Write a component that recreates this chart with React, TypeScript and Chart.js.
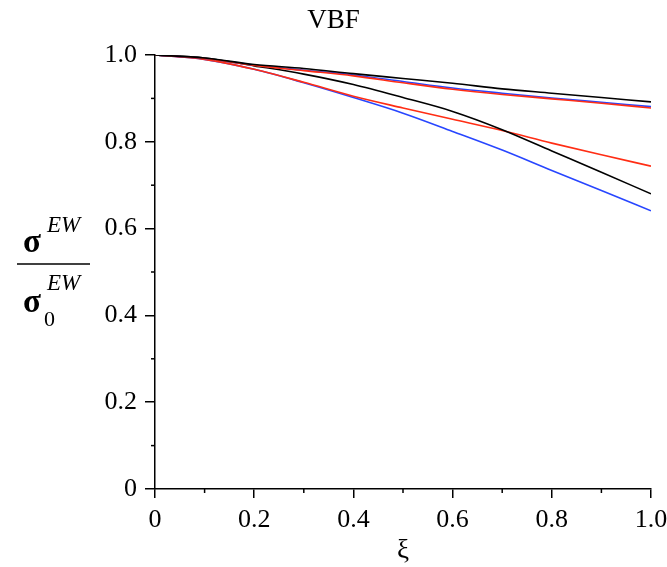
import React, { useEffect, useRef } from 'react';
import { Chart, registerables } from 'chart.js';

Chart.register(...registerables);

const xi = [0, 0.1, 0.2, 0.3, 0.4, 0.5, 0.6, 0.7, 0.8, 0.9, 1.0];
const upperBlack = [1.0, 0.993, 0.978, 0.969, 0.957, 0.946, 0.935, 0.922, 0.912, 0.902, 0.892];
const upperBlue = [1.0, 0.992, 0.977, 0.965, 0.954, 0.939, 0.924, 0.912, 0.901, 0.891, 0.881];
const upperRed = [1.0, 0.992, 0.976, 0.964, 0.952, 0.936, 0.921, 0.909, 0.899, 0.889, 0.878];
const lowerBlack = [1.0, 0.993, 0.975, 0.956, 0.932, 0.902, 0.87, 0.828, 0.779, 0.73, 0.68];
const lowerRed = [1.0, 0.99, 0.967, 0.937, 0.905, 0.878, 0.852, 0.826, 0.797, 0.77, 0.744];
const lowerBlue = [1.0, 0.99, 0.967, 0.936, 0.902, 0.866, 0.824, 0.781, 0.734, 0.688, 0.641];

const minorTicks = [0.1, 0.3, 0.5, 0.7, 0.9];
const titleText = 'VBF';
const xTitle = 'ξ';

const BLACK = '#000000';
const RED = 'rgb(255,45,20)';
const BLUE = 'rgb(40,70,255)';

const toPts = (ys: number[]) => ys.map((y, i) => ({ x: xi[i], y }));

const serif = "'Liberation Serif', 'DejaVu Serif', serif";

const extrasPlugin = {
  id: 'extras',
  afterDraw(chart: any) {
    const ctx = chart.ctx as CanvasRenderingContext2D;
    const xs = chart.scales.x;
    const ys = chart.scales.y;
    ctx.save();
    ctx.strokeStyle = '#000';
    ctx.lineWidth = 1.5;
    minorTicks.forEach((v) => {
      const px = xs.getPixelForValue(v);
      ctx.beginPath();
      ctx.moveTo(px, xs.top);
      ctx.lineTo(px, xs.top + 4);
      ctx.stroke();
      const py = ys.getPixelForValue(v);
      ctx.beginPath();
      ctx.moveTo(ys.right, py);
      ctx.lineTo(ys.right - 4, py);
      ctx.stroke();
    });
    ctx.fillStyle = '#000';
    ctx.textBaseline = 'alphabetic';
    ctx.textAlign = 'left';
    ctx.font = `bold 33px ${serif}`;
    ctx.fillText('σ', 23, 252);
    ctx.fillText('σ', 23, 312);
    ctx.font = `italic 23px ${serif}`;
    ctx.fillText('EW', 47, 232);
    ctx.fillText('EW', 47, 290);
    ctx.font = `22px ${serif}`;
    ctx.fillText('0', 44, 326);
    ctx.beginPath();
    ctx.moveTo(17, 264);
    ctx.lineTo(90, 264);
    ctx.stroke();
    ctx.restore();
  },
};

export default function App() {
  const ref = useRef<HTMLCanvasElement | null>(null);
  useEffect(() => {
    if (!ref.current) return;
    const ds = (label: string, ys: number[], color: string) => ({
      label,
      data: toPts(ys),
      borderColor: color,
      backgroundColor: color,
      borderWidth: 1.6,
      pointRadius: 0,
      cubicInterpolationMode: 'monotone' as const,
      fill: false,
    });
    const chart = new Chart(ref.current, {
      type: 'line',
      data: {
        datasets: [
          ds('upper black', upperBlack, BLACK),
          ds('upper red', upperRed, RED),
          ds('upper blue', upperBlue, BLUE),
          ds('lower black', lowerBlack, BLACK),
          ds('lower red', lowerRed, RED),
          ds('lower blue', lowerBlue, BLUE),
        ],
      },
      options: {
        animation: false,
        responsive: false,
        devicePixelRatio: 1,
        layout: { padding: { left: 0, top: 0, bottom: 0, right: 0 } },
        plugins: {
          legend: { display: false },
          tooltip: { enabled: false },
          title: {
            display: true,
            text: titleText,
            color: '#000',
            font: { family: serif, size: 27, weight: 'normal' },
            padding: { top: 5, bottom: 17.6 },
          },
        },
        scales: {
          x: {
            type: 'linear',
            min: 0,
            max: 1,
            afterFit: (s: any) => {
              s.height = 78;
              s.paddingRight = 16;
              s.paddingLeft = 0;
            },
            ticks: {
              stepSize: 0.2,
              color: '#000',
              font: { family: serif, size: 26 },
              padding: 7,
              maxRotation: 0,
              callback: (v: any) => (v === 0 ? '0' : Number(v).toFixed(1)),
            },
            grid: {
              display: true,
              drawOnChartArea: false,
              drawTicks: true,
              tickLength: 9,
              color: '#000',
              lineWidth: 1.5,
            },
            border: { display: true, color: '#000', width: 1.5 },
            title: {
              display: true,
              text: xTitle,
              color: '#000',
              font: { family: serif, size: 27 },
              padding: { top: 0, bottom: 0 },
            },
          },
          y: {
            type: 'linear',
            min: 0,
            max: 1,
            afterFit: (s: any) => {
              s.width = 155;
            },
            ticks: {
              stepSize: 0.2,
              color: '#000',
              font: { family: serif, size: 26 },
              padding: 8,
              callback: (v: any) => (v === 0 ? '0' : Number(v).toFixed(1)),
            },
            grid: {
              display: true,
              drawOnChartArea: false,
              drawTicks: true,
              tickLength: 10,
              color: '#000',
              lineWidth: 1.5,
            },
            border: { display: true, color: '#000', width: 1.5 },
          },
        },
      },
      plugins: [extrasPlugin],
    });
    return () => chart.destroy();
  }, []);

  return (
    <div style={{ position: 'absolute', left: 0, top: 0, width: 667, height: 567, background: '#fff' }}>
      <canvas ref={ref} width={667} height={567} style={{ display: 'block' }} />
    </div>
  );
}
